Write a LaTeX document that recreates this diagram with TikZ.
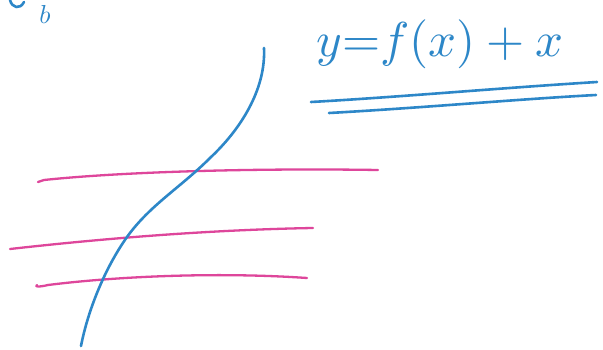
\documentclass[tikz,border=0pt]{standalone}
\definecolor{penblue}{RGB}{45,135,200}
\definecolor{penpink}{RGB}{222,70,155}
\tikzset{
  bluestroke/.style={draw=penblue, line width=2.6pt, line cap=round, line join=round},
  pinkstroke/.style={draw=penpink, line width=2.3pt, line cap=round, line join=round},
  handtext/.style={text=penblue, inner sep=0pt}
}
\begin{document}
\begin{tikzpicture}[x=1pt,y=-1pt]
\useasboundingbox[fill=white] (0,0) rectangle (603,350);
% top-left fragment
\node[handtext, scale=2.6, anchor=south] (frag) at (45,24) {$b$};
\draw[bluestroke] (10,0) .. controls (12,8) and (20,10) .. (24,2);
% label
\node[handtext, scale=4.9] (lab) at (440,44) {$y{=}f(x)+x$};
% double underline
\coordinate (u1a) at (311,102);
\coordinate (u1b) at (597,82);
\coordinate (u2a) at (329,113);
\coordinate (u2b) at (596,95);
\draw[bluestroke] (u1a) .. controls (400,97) and (500,88) .. (u1b);
\draw[bluestroke] (u2a) .. controls (420,108) and (520,99) .. (u2b);
% pink horizontal lines
\coordinate (p1a) at (38,182);
\coordinate (p1b) at (378,170);
\coordinate (p2a) at (10,249);
\coordinate (p2b) at (313,228);
\coordinate (p3a) at (37,285);
\coordinate (p3b) at (307,278);
\draw[pinkstroke] (p1a) -- (44,180) .. controls (120,172) and (250,168) .. (p1b);
\draw[pinkstroke] (p2a) .. controls (90,240) and (200,230) .. (p2b);
\draw[pinkstroke] (p3a) .. controls (34,287) and (40,287) .. (48,285) .. controls (120,276) and (220,272) .. (p3b);
% blue curve
\coordinate (ctop) at (264,48);
\coordinate (cbot) at (81,346);
\draw[bluestroke] (ctop) .. controls (266,90) and (240,130) .. (210,158)
  .. controls (180,188) and (150,205) .. (127,237)
  .. controls (105,268) and (88,310) .. (cbot);
\end{tikzpicture}
\end{document}
